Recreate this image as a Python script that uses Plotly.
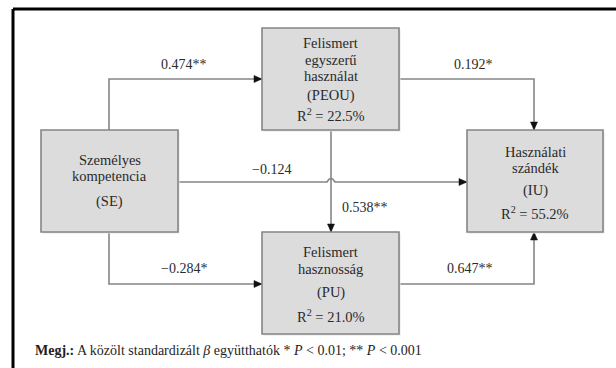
import plotly.graph_objects as go

# ---------------- data ----------------
node_ids = ["SE", "PEOU", "PU", "IU"]
node_titles = [
    ["Személyes", "kompetencia"],
    ["Felismert", "egyszerű", "használat"],
    ["Felismert", "hasznosság"],
    ["Használati", "szándék"],
]
r2_values = [None, 22.5, 21.0, 55.2]

path_from = ["SE", "PEOU", "SE", "PEOU", "SE", "PU"]
path_to = ["PEOU", "IU", "IU", "PU", "PU", "IU"]
path_beta = [0.474, 0.192, -0.124, 0.538, -0.284, 0.647]
path_sig = ["**", "*", "", "**", "*", "**"]

note_text = ("<b>Megj.:</b> A közölt standardizált <i>β</i> együtthatók * <i>P</i> &lt; 0.01; "
             "** <i>P</i> &lt; 0.001")

# ---------------- layout geometry (pixels) ----------------
W, H = 616, 368
box_geom = {  # x0, y0, x1, y1
    "SE": (41, 130, 178, 232),
    "PEOU": (262, 28, 399, 130),
    "IU": (467, 130, 603, 232),
    "PU": (262, 232, 399, 334),
}
# text line y positions inside each box
box_lines_y = {
    "SE": [160, 176, 201],
    "PEOU": [43, 60, 76, 95, 115],
    "IU": [152, 168, 190, 213],
    "PU": [252, 269, 292, 316],
}
edge_routes = {
    ("SE", "PEOU"): [(109, 130), (109, 79), (262, 79)],
    ("PEOU", "IU"): [(399, 79), (534, 79), (534, 130)],
    ("SE", "IU"): [(178, 182), (467, 182)],
    ("PEOU", "PU"): [(331, 130), (331, 232)],
    ("SE", "PU"): [(109, 232), (109, 284), (262, 284)],
    ("PU", "IU"): [(399, 284), (534, 284), (534, 232)],
}
edge_label_pos = {
    ("SE", "PEOU"): (184, 64),
    ("PEOU", "IU"): (473, 64),
    ("SE", "IU"): (271, 169),
    ("PEOU", "PU"): (365, 207),
    ("SE", "PU"): (184, 268),
    ("PU", "IU"): (470, 268),
}
hop_x = 331

FONT = "Liberation Serif"
TXT = "#2a2a2a"
LINE = "#858585"

shapes = []
annotations = []

# outer frame (top + left only)
shapes.append(dict(type="line", x0=13, y0=9, x1=W, y1=9, line=dict(color="black", width=3)))
shapes.append(dict(type="line", x0=13, y0=9, x1=13, y1=H, line=dict(color="black", width=3)))

# edges
for f, t, b, s in zip(path_from, path_to, path_beta, path_sig):
    pts = edge_routes[(f, t)]
    if (f, t) == ("SE", "IU"):
        y = pts[0][1]
        d = (f"M{pts[0][0]},{y} L{hop_x-4},{y} Q{hop_x},{y-7} {hop_x+4},{y} "
             f"L{pts[-1][0]},{y}")
    else:
        d = "M" + " L".join(f"{x},{y}" for x, y in pts)
    shapes.append(dict(type="path", path=d, line=dict(color=LINE, width=1.6)))
    # arrowhead
    (xa, ya), (xb, yb) = pts[-2], pts[-1]
    L, Wd = 8, 3.5
    if xa == xb:
        sgn = 1 if yb > ya else -1
        tri = f"M{xb},{yb} L{xb-Wd},{yb-sgn*L} L{xb+Wd},{yb-sgn*L} Z"
    else:
        sgn = 1 if xb > xa else -1
        tri = f"M{xb},{yb} L{xb-sgn*L},{yb-Wd} L{xb-sgn*L},{yb+Wd} Z"
    shapes.append(dict(type="path", path=tri, fillcolor="#111111",
                       line=dict(color="#111111", width=0.5)))
    lx, ly = edge_label_pos[(f, t)]
    lbl = (f"{b:.3f}".replace("-", "\u2212")) + s
    annotations.append(dict(x=lx, y=ly, text=lbl, showarrow=False,
                            font=dict(family=FONT, size=14, color=TXT)))

# boxes
for nid, title, r2 in zip(node_ids, node_titles, r2_values):
    x0, y0, x1, y1 = box_geom[nid]
    shapes.append(dict(type="rect", x0=x0 + 1.5, y0=y0 + 1.5, x1=x1 + 1.5, y1=y1 + 1.5,
                       fillcolor="#e6e6e6", line=dict(width=0)))
    shapes.append(dict(type="rect", x0=x0, y0=y0, x1=x1, y1=y1, fillcolor="#dcdcdc",
                       line=dict(color="#858585", width=1.6)))
    lines = list(title) + [f"({nid})"]
    if r2 is not None:
        lines.append(f"R<sup>2</sup> = {r2:.1f}%")
    cx = (x0 + x1) / 2
    for txt, yy in zip(lines, box_lines_y[nid]):
        annotations.append(dict(x=cx, y=yy, text=txt, showarrow=False,
                                font=dict(family=FONT, size=14.5, color=TXT)))

annotations.append(dict(x=33, y=350, text=note_text, showarrow=False, xanchor="left",
                        font=dict(family=FONT, size=14, color="#1e1e1e")))

fig = go.Figure()
fig.update_layout(
    width=W, height=H, margin=dict(l=0, r=0, t=0, b=0),
    paper_bgcolor="white", plot_bgcolor="white",
    xaxis=dict(range=[0, W], visible=False, fixedrange=True),
    yaxis=dict(range=[H, 0], visible=False, fixedrange=True),
    shapes=shapes, annotations=annotations, showlegend=False,
)
fig.write_html("out.html", config={"displayModeBar": False},
               post_script="document.body.style.margin='0';document.body.style.overflow='hidden';")
